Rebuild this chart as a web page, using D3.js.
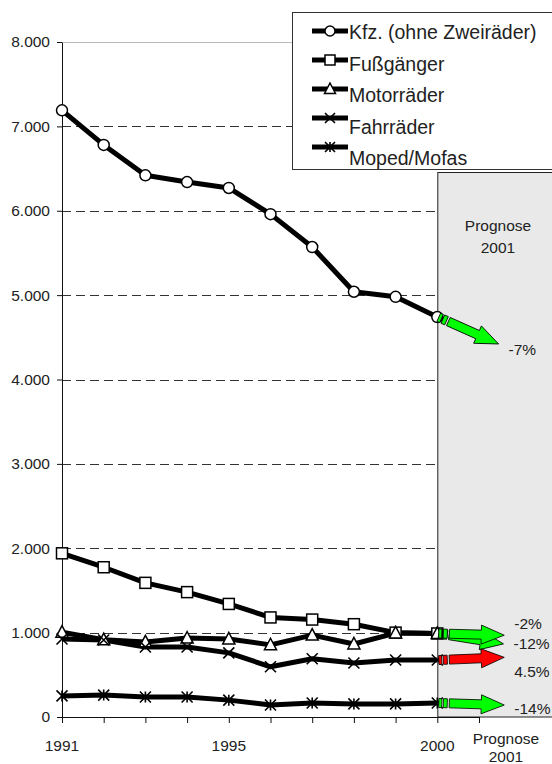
<!DOCTYPE html>
<html lang="de">
<head>
<meta charset="UTF-8">
<script src="https://d3js.org/d3.v7.min.js"></script>
<style>
  body { margin: 0; background: #fff; }
  text { font-family: "Liberation Sans", Arial, sans-serif; fill: #222; }
</style>
</head>
<body>
<script>
// data
const years = [1991, 1992, 1993, 1994, 1995, 1996, 1997, 1998, 1999, 2000];
const seriesNames = ["Kfz. (ohne Zweiräder)", "Fußgänger", "Motorräder", "Fahrräder", "Moped/Mofas"];
const kfz        = [7190, 6780, 6420, 6340, 6270, 5960, 5570, 5040, 4980, 4740];
const fussgaenger = [1940, 1775, 1590, 1480, 1340, 1180, 1155, 1100, 1000, 990];
const motorraeder = [1005, 915, 890, 935, 925, 855, 970, 865, 995, 990];
const fahrraeder  = [925, 912, 830, 830, 760, 595, 690, 640, 675, 675];
const mopeds      = [250, 260, 237, 237, 200, 142, 166, 155, 155, 166];
const prognose    = [-7, -12, -2, 4.5, -14];   // % change 2001
const yTicks = [0, 1000, 2000, 3000, 4000, 5000, 6000, 7000, 8000];
const xLabels = [1991, 1995, 2000];

const values = [kfz, fussgaenger, motorraeder, fahrraeder, mopeds];
const markers = ["circle", "square", "triangle", "cross", "star"];

const width = 552, height = 764;
const svg = d3.select("body").append("svg")
  .attr("width", width).attr("height", height);

const x = d3.scaleLinear().domain([1991, 2001]).range([62, 479]);
const y = d3.scaleLinear().domain([0, 8000]).range([717, 42]);
const de = d3.formatLocale({ decimal: ",", thousands: ".", grouping: [3], currency: ["", " €"] });
const fmt = de.format(",");

// prognosis area
svg.append("rect")
  .attr("x", x(2000) + 0.5).attr("y", 172.5)
  .attr("width", 130).attr("height", y(0) - 172.5)
  .attr("fill", "#e9e9e9").attr("stroke", "#222").attr("stroke-width", 1);

svg.append("text").attr("x", 498).attr("y", 231)
  .attr("text-anchor", "middle").style("font-size", "15.5px").text("Prognose");
svg.append("text").attr("x", 498).attr("y", 253)
  .attr("text-anchor", "middle").style("font-size", "15.5px").text("2001");

// gridlines
svg.append("g").selectAll("line")
  .data(yTicks.filter(d => d > 0))
  .join("line")
  .attr("x1", x(1991)).attr("x2", x(2000))
  .attr("y1", d => Math.round(y(d)) + 0.5).attr("y2", d => Math.round(y(d)) + 0.5)
  .attr("stroke", d => d === 8000 ? "#bbb" : "#333")
  .attr("stroke-dasharray", d => d === 8000 ? null : "9,5");

// axes
const yAxis = svg.append("g")
  .attr("transform", `translate(${x(1991)},0)`)
  .call(d3.axisLeft(y).tickValues(yTicks).tickSize(5).tickSizeOuter(0).tickPadding(7).tickFormat(fmt));
yAxis.selectAll("text").style("font-size", "15.5px").attr("fill", "#222");

const xAxis = svg.append("g")
  .attr("transform", `translate(0,${y(0)})`)
  .call(d3.axisBottom(x).tickValues(d3.range(1991, 2002)).tickSize(6).tickSizeOuter(0).tickFormat(""));
svg.selectAll(".domain, .tick line").attr("stroke", "#111");

svg.append("g").selectAll("text")
  .data(xLabels).join("text")
  .attr("x", d => x(d)).attr("y", 751)
  .attr("text-anchor", "middle").style("font-size", "15.5px")
  .text(d => d);
svg.append("text").attr("x", x(2001) + 27).attr("y", 744)
  .attr("text-anchor", "middle").style("font-size", "15.5px").text("Prognose");
svg.append("text").attr("x", x(2001) + 27).attr("y", 762)
  .attr("text-anchor", "middle").style("font-size", "15.5px").text("2001");

// markers
function drawMarker(g, type, s) {
  const stroke = "#000";
  if (type === "circle") {
    g.append("circle").attr("r", s * 0.5).attr("fill", "#fff").attr("stroke", stroke).attr("stroke-width", 1.5);
  } else if (type === "square") {
    g.append("rect").attr("x", -s / 2).attr("y", -s / 2).attr("width", s).attr("height", s)
      .attr("fill", "#fff").attr("stroke", stroke).attr("stroke-width", 1.5);
  } else if (type === "triangle") {
    g.append("path").attr("d", `M0,${-s * 0.6}L${s * 0.55},${s * 0.45}L${-s * 0.55},${s * 0.45}Z`)
      .attr("fill", "#fff").attr("stroke", stroke).attr("stroke-width", 1.5);
  } else {
    const r = s * 0.5;
    g.append("path").attr("d", `M${-r},${-r}L${r},${r}M${-r},${r}L${r},${-r}` + (type === "star" ? `M0,${-r}L0,${r}` : ""))
      .attr("fill", "none").attr("stroke", stroke).attr("stroke-width", 1.6);
  }
}

const line = d3.line().x((d, i) => x(years[i])).y(d => y(d));

values.forEach((vals, k) => {
  svg.append("path").datum(vals)
    .attr("d", line)
    .attr("fill", "none").attr("stroke", "#000")
    .attr("stroke-width", 5).attr("stroke-linejoin", "round");
});
values.forEach((vals, k) => {
  svg.append("g").selectAll("g")
    .data(vals).join("g")
    .attr("transform", (d, i) => `translate(${x(years[i])},${y(d)})`)
    .each(function () { drawMarker(d3.select(this), markers[k], 11); });
});

// prognosis arrows
const arrowLen = 66;
const labelDy = [6, 0, -12, 14, 4];
function drawArrow(x0, y0, x1, y1, color) {
  const ang = Math.atan2(y1 - y0, x1 - x0) * 180 / Math.PI;
  const g = svg.append("g").attr("transform", `translate(${x0},${y0}) rotate(${ang})`);
  const h = 4.5, H = 9.5, hl = 23, L = arrowLen;
  const st = { fill: color, stroke: "#000", "stroke-width": 0.8 };
  [[0.5, 3.5], [5, 9]].forEach(([a, b]) => {
    const r = g.append("rect").attr("x", a).attr("y", -h).attr("width", b - a).attr("height", 2 * h);
    Object.entries(st).forEach(([k, v]) => r.attr(k, v));
  });
  const p = g.append("path")
    .attr("d", `M11,${-h}L${L - hl},${-h}L${L - hl},${-H}L${L},0L${L - hl},${H}L${L - hl},${h}L11,${h}Z`);
  Object.entries(st).forEach(([k, v]) => p.attr(k, v));
}

values.forEach((vals, k) => {
  const v0 = vals[vals.length - 1];
  const v1 = v0 * (1 + prognose[k] / 100);
  const x0 = x(2000) + 1, y0 = y(v0);
  const tx = x(2001) + 22, ty = y(v1);
  const d = Math.hypot(tx - x0, ty - y0);
  const x1 = x0 + (tx - x0) * arrowLen / d, y1 = y0 + (ty - y0) * arrowLen / d;
  drawArrow(x0, y0, x1, y1, prognose[k] > 0 ? "#ff0000" : "#00ff00");
  svg.append("text")
    .attr("x", x1 + 10).attr("y", y1 + labelDy[k])
    .attr("dy", "0.35em").style("font-size", "15.5px")
    .text(`${prognose[k]}%`);
});

// legend
const legend = svg.append("g");
legend.append("rect")
  .attr("x", 292.5).attr("y", 12.5).attr("width", 280).attr("height", 157)
  .attr("fill", "#fff").attr("stroke", "#333");
seriesNames.forEach((name, i) => {
  const by = 39 + i * 31.5;
  const ly = by - 8 - i * 2.5;
  legend.append("line").attr("x1", 312).attr("x2", 348).attr("y1", ly).attr("y2", ly)
    .attr("stroke", "#000").attr("stroke-width", 5);
  const mg = legend.append("g").attr("transform", `translate(330,${ly})`);
  drawMarker(mg, markers[i], 10);
  legend.append("text").attr("x", 349).attr("y", by)
    .style("font-size", "19.5px").text(name);
});
</script>
</body>
</html>
